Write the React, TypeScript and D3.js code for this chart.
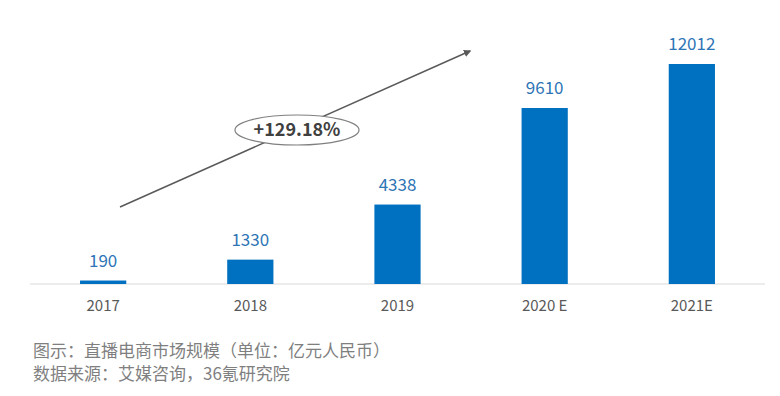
import * as d3 from 'd3';

const years = ['2017', '2018', '2019', '2020 E', '2021E'];
const values = [190, 1330, 4338, 9610, 12012];
const growthLabel = '+129.18%';
const captionLines = [
  '图示：直播电商市场规模（单位：亿元人民币）',
  '数据来源：艾媒咨询，36氪研究院',
];

const W = 780;
const H = 396;

export default function App() {
  const baseline = 284;
  const x = d3.scaleBand<string>()
    .domain(years)
    .range([30, 765])
    .paddingInner(0.686)
    .paddingOuter(0.34);
  const y = d3.scaleLinear().domain([0, 12012]).range([baseline, 64]);

  const font = '"Noto Sans CJK SC", "Open Sans", sans-serif';

  return (
    <svg width={W} height={H} style={{ display: 'block', position: 'absolute', left: 0, top: 0, background: '#fff' }}>
      <defs>
        <marker id="arrowHead" viewBox="0 0 10 10" refX="8" refY="5" markerWidth="5" markerHeight="5" orient="auto">
          <path d="M0,0 L10,5 L0,10 z" fill="#595959" />
        </marker>
      </defs>

      {/* baseline */}
      <line x1={30} x2={765} y1={baseline} y2={baseline} stroke="#d9d9d9" strokeWidth={1} />

      {values.map((v, i) => {
        const bx = x(years[i])!;
        return (
          <g key={years[i]}>
            <rect x={bx} y={y(v)} width={x.bandwidth()} height={baseline - y(v)} fill="#0070c0" />
            <text x={bx + x.bandwidth() / 2} y={y(v) - 14} textAnchor="middle" fontFamily={font} fontSize={17} fill="#2e75b6">
              {v}
            </text>
            <text x={bx + x.bandwidth() / 2} y={311} textAnchor="middle" fontFamily={font} fontSize={15} fill="#595959">
              {years[i]}
            </text>
          </g>
        );
      })}

      {/* growth arrow */}
      <line x1={120} y1={207} x2={470} y2={51} stroke="#595959" strokeWidth={1.5} markerEnd="url(#arrowHead)" />
      <ellipse cx={297} cy={130} rx={62} ry={15} fill="#fff" stroke="#7f7f7f" strokeWidth={1.2} />
      <text x={297} y={136} textAnchor="middle" fontFamily={font} fontSize={18} fontWeight={600} fill="#404040">
        {growthLabel}
      </text>

      {captionLines.map((t, i) => (
        <text key={i} x={33} y={357 + i * 23} fontFamily={font} fontSize={17} fill="#7f7f7f">
          {t}
        </text>
      ))}
    </svg>
  );
}
